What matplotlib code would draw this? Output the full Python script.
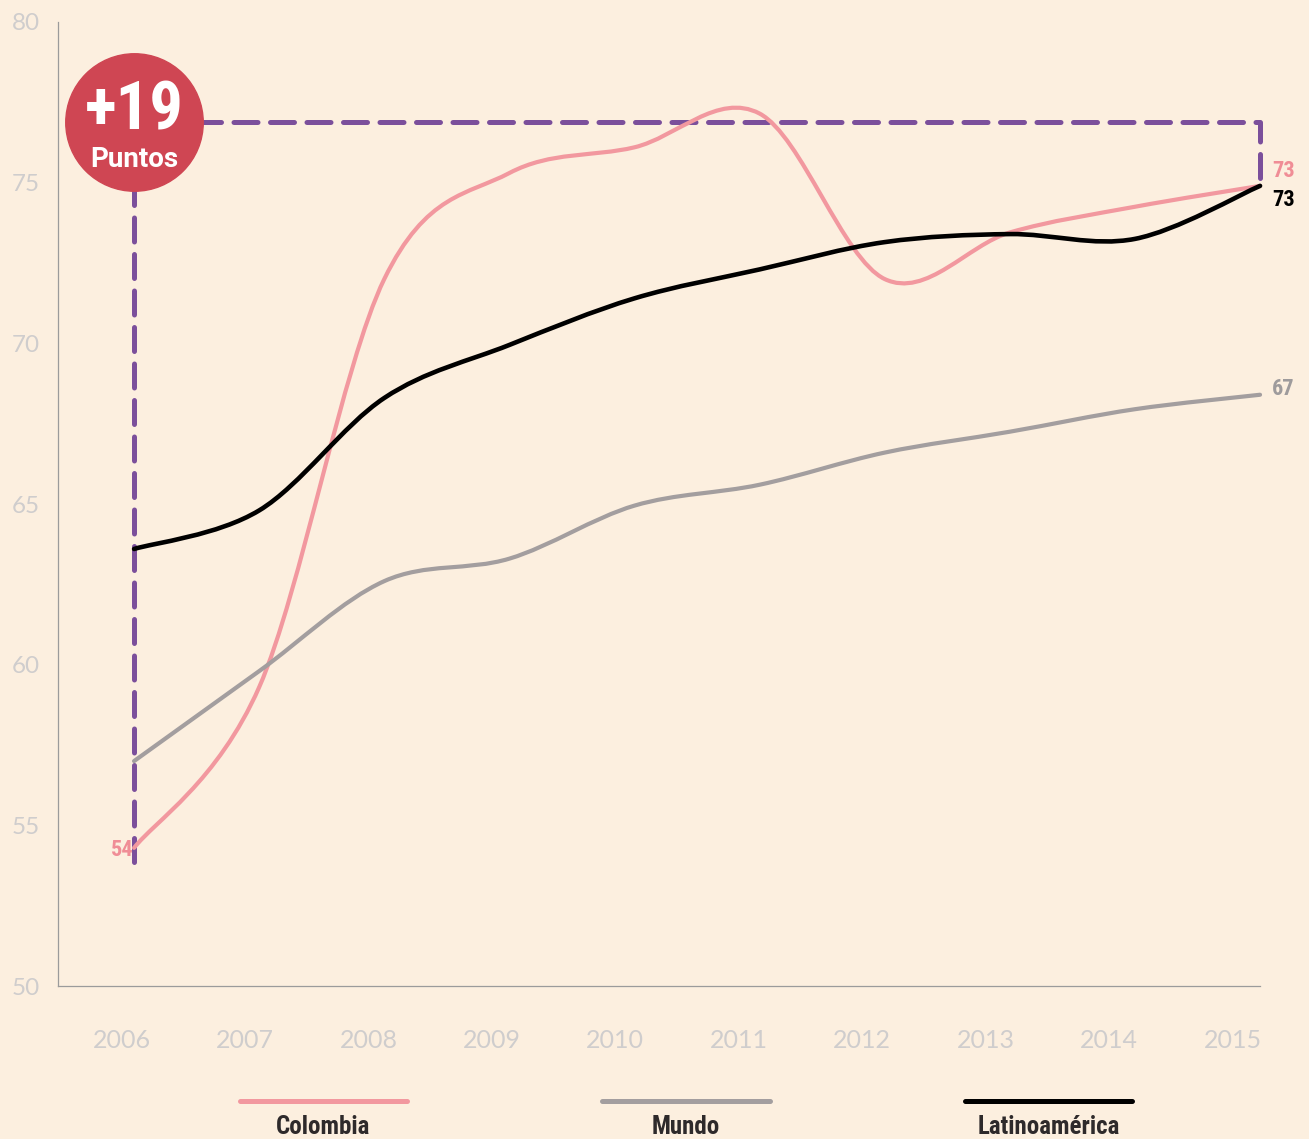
import numpy as np
import matplotlib.pyplot as plt
from matplotlib.path import Path
from matplotlib.patches import PathPatch
from matplotlib.lines import Line2D

years = [2006, 2007, 2008, 2009, 2010, 2011, 2012, 2013, 2014, 2015]
colombia = [54.3, 59.3, 72.0, 75.3, 76.1, 77.15, 72.0, 73.45, 74.25, 74.9]
mundo = [57.0, 59.8, 62.6, 63.3, 64.95, 65.6, 66.6, 67.25, 67.95, 68.4]
latam = [63.6, 64.8, 68.3, 69.95, 71.4, 72.3, 73.15, 73.4, 73.25, 74.9]
names = ['Colombia', 'Mundo', 'Latinoamérica']
end_labels = ['73', '67', '73']
start_label = '54'
gain_text = '+19'
gain_sub = 'Puntos'
bracket_top = 76.9
bracket_bottom = 53.85

bg = '#fcefdf'
pink = '#f2989f'
grey = '#a39e9f'
black = '#000000'
purple = '#7b4f9b'
red = '#cf4653'
tick_col = '#cfcdcd'
narrow = ['Roboto Condensed', 'Roboto', 'DejaVu Sans']


def smooth_path(x, y):
    # catmull-rom through the points, drawn as cubic beziers
    x = np.asarray(x, float)
    y = np.asarray(y, float)
    px = np.r_[x[0], x, x[-1]]
    py = np.r_[y[0], y, y[-1]]
    verts = [(x[0], y[0])]
    codes = [Path.MOVETO]
    for i in range(1, len(x)):
        c1 = (px[i] + (px[i + 1] - px[i - 1]) / 6, py[i] + (py[i + 1] - py[i - 1]) / 6)
        c2 = (px[i + 1] - (px[i + 2] - px[i]) / 6, py[i + 1] - (py[i + 2] - py[i]) / 6)
        verts += [c1, c2, (px[i + 1], py[i + 1])]
        codes += [Path.CURVE4] * 3
    return Path(verts, codes)


fig = plt.figure(figsize=(13.09, 11.39), dpi=100, facecolor=bg)
ax = fig.add_axes([0.0443, 0.1343, 0.9183, 0.8464], facecolor=bg)
ax.set_xlim(2005.392, 2015)
ax.set_ylim(50, 80)

for s in ['top', 'right']:
    ax.spines[s].set_visible(False)
for s in ['left', 'bottom']:
    ax.spines[s].set_color('#9b9b9b')
    ax.spines[s].set_linewidth(0.9)

ax.set_yticks([50, 55, 60, 65, 70, 75, 80])
tick_pos = np.linspace(years[0] - 0.1, years[-1] - 0.22, len(years))
ax.set_xticks(tick_pos)
ax.set_xticklabels([str(y) for y in years])
ax.tick_params(axis='both', length=0, colors=tick_col)
ax.tick_params(axis='y', pad=13, labelsize=17.5)
ax.tick_params(axis='x', pad=31, labelsize=18)
for lab in ax.get_xticklabels() + ax.get_yticklabels():
    lab.set_fontfamily(['Lato', 'DejaVu Sans'])

# bracket showing the gain
ax.plot([years[0], years[0], years[-1], years[-1]],
        [bracket_bottom, bracket_top, bracket_top, colombia[-1]],
        color=purple, lw=3.6, dashes=(4.8, 2.5), dash_capstyle='round',
        clip_on=False, zorder=2)

series = [(colombia, pink, 3.0), (mundo, grey, 3.0), (latam, black, 3.3)]
for vals, col, lw in series:
    patch = PathPatch(smooth_path(years, vals), fill=False, edgecolor=col,
                      lw=lw, capstyle='round', clip_on=False, zorder=3)
    ax.add_patch(patch)

# end labels
ax.annotate(end_labels[0], (years[-1], colombia[-1]), xytext=(8.6, 6.5),
            textcoords='offset points', ha='left', va='baseline',
            color='#f08d96', fontsize=16, fontweight='bold', family=narrow)
ax.annotate(end_labels[2], (years[-1], latam[-1]), xytext=(8.6, -14.4),
            textcoords='offset points', ha='left', va='baseline',
            color=black, fontsize=16, fontweight='bold', family=narrow)
ax.annotate(end_labels[1], (years[-1], mundo[-1]), xytext=(8.6, 0),
            textcoords='offset points', ha='left', va='baseline',
            color='#9e9b9c', fontsize=16, fontweight='bold', family=narrow)
ax.annotate(start_label, (years[0], colombia[0]), xytext=(-0.5, -5.8),
            textcoords='offset points', ha='right', va='baseline',
            color='#f08d96', fontsize=16, fontweight='bold', family=narrow,
            zorder=1)

# badge
ax.plot([years[0]], [bracket_top], 'o', ms=99, color=red, mec=red,
        clip_on=False, zorder=5)
ax.annotate(gain_text, (years[0], bracket_top), xytext=(0, -5.5),
            textcoords='offset points', ha='center', va='baseline',
            color='white', fontsize=48, fontweight='bold', family=narrow,
            zorder=6)
ax.annotate(gain_sub, (years[0], bracket_top), xytext=(0, -32.5),
            textcoords='offset points', ha='center', va='baseline',
            color='white', fontsize=20, fontweight='bold',
            family=['Roboto', 'DejaVu Sans'], zorder=6)

# legend below the chart
leg_x = [(240, 407), (602, 770), (965, 1132)]
for (x0, x1), name, (vals, col, lw) in zip(leg_x, names, series):
    fig.add_artist(Line2D([x0 / 1309, x1 / 1309], [1 - 1101 / 1139] * 2,
                          color=col, lw=3.6, solid_capstyle='round'))
    fig.text((x0 + x1) / 2 / 1309, 1 - 1134 / 1139, name, ha='center',
             va='baseline', color='#2e2a2b', fontsize=18, fontweight='bold',
             family=narrow)

fig.savefig('out.png', dpi=100, facecolor=bg)
